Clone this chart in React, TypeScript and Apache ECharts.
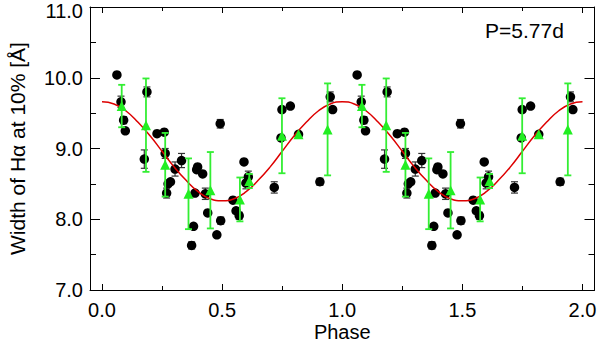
import React, { useEffect, useRef } from "react";
import * as echarts from "echarts";

// ---- data (phase 0..1, repeated for phase 1..2 as in the figure) ----
const blackPhase = [0.062, 0.079, 0.09, 0.097, 0.176, 0.187, 0.229, 0.259, 0.263, 0.269, 0.275, 0.285, 0.304, 0.331, 0.373, 0.381, 0.387, 0.394, 0.398, 0.419, 0.43, 0.44, 0.478, 0.492, 0.494, 0.545, 0.558, 0.571, 0.591, 0.599, 0.609, 0.717, 0.745, 0.749, 0.784, 0.818, 0.907, 0.95, 0.96];
const blackValue = [10.04, 9.66, 9.4, 9.25, 8.85, 9.8, 9.21, 9.23, 8.93, 8.37, 8.5, 8.53, 8.71, 8.83, 7.63, 7.9, 8.37, 8.7, 8.74, 8.64, 8.36, 8.09, 7.78, 9.35, 7.98, 8.27, 8.12, 8.05, 8.81, 8.51, 8.6, 8.45, 9.15, 9.55, 9.6, 9.2, 8.53, 9.73, 9.55];
const blackErr = [0.03, 0.08, 0.05, 0, 0.13, 0.07, 0, 0, 0.07, 0.07, 0, 0, 0.1, 0.1, 0.05, 0, 0, 0, 0, 0, 0.08, 0, 0, 0.06, 0.05, 0, 0, 0.05, 0, 0.08, 0.08, 0.08, 0, 0, 0, 0, 0.05, 0.07, 0];

const greenPhase = [0.082, 0.183, 0.263, 0.36, 0.451, 0.574, 0.613, 0.749, 0.818, 0.939];
const greenValue = [9.6, 9.33, 8.77, 8.36, 8.41, 8.28, 8.54, 9.18, 9.2, 9.27];
const greenErr = [0.3, 0.66, 0.45, 0.5, 0.54, 0.31, 0.1, 0.53, 0, 0.65];

const curvePhase = [0, 0.05, 0.1, 0.15, 0.2, 0.25, 0.3, 0.35, 0.4, 0.45, 0.5, 0.55, 0.6, 0.65, 0.7, 0.75, 0.8, 0.85, 0.9, 0.95, 1.0];
const curveValue = [9.66, 9.63, 9.53, 9.37, 9.18, 8.96, 8.74, 8.55, 8.39, 8.29, 8.26, 8.29, 8.39, 8.55, 8.74, 8.96, 9.18, 9.37, 9.53, 9.63, 9.66];

const xMajorTicks = [0, 0.5, 1.0, 1.5, 2.0];
const xMinorTicks = [0.25, 0.75, 1.25, 1.75];

const cycles = [0, 1];

const FONT = "'Liberation Sans', Arial, Helvetica, sans-serif";

function repeat(phases: number[], values: number[], extra?: number[]) {
  const out: number[][] = [];
  cycles.forEach((c) => {
    phases.forEach((p, i) => {
      const row = [p + c, values[i]];
      if (extra) row.push(extra[i]);
      out.push(row);
    });
  });
  return out;
}

function errorBarSeries(data: number[][], color: string, width: number, z: number) {
  return {
    type: "custom",
    xAxisIndex: 0,
    yAxisIndex: 0,
    z,
    data: data.filter((d) => d[2] > 0),
    renderItem: (params: any, api: any) => {
      const x = api.value(0);
      const y = api.value(1);
      const e = api.value(2);
      const top = api.coord([x, y + e]);
      const bot = api.coord([x, y - e]);
      const hw = 3.5;
      const style = { stroke: color, lineWidth: width };
      return {
        type: "group",
        children: [
          { type: "line", shape: { x1: top[0], y1: top[1], x2: bot[0], y2: bot[1] }, style },
          { type: "line", shape: { x1: top[0] - hw, y1: top[1], x2: top[0] + hw, y2: top[1] }, style },
          { type: "line", shape: { x1: bot[0] - hw, y1: bot[1], x2: bot[0] + hw, y2: bot[1] }, style },
        ],
      };
    },
    silent: true,
  };
}

export default function App() {
  const ref = useRef<HTMLDivElement>(null);
  useEffect(() => {
    if (!ref.current) return;
    const chart = echarts.init(ref.current, undefined, { renderer: "svg" });
    const black = repeat(blackPhase, blackValue, blackErr);
    const green = repeat(greenPhase, greenValue, greenErr);
    const curve = repeat(curvePhase, curveValue).filter((d, i, arr) => i === 0 || d[0] !== arr[i - 1][0]);

    const axisLineStyle = { color: "#000", width: 1 };
    const baseX = {
      type: "value",
      min: -0.05,
      max: 2.05,
      splitLine: { show: false },
    };
    const baseY = {
      type: "value",
      min: 7,
      max: 11,
      interval: 1,
      splitLine: { show: false },
    };

    chart.setOption({
      animation: false,
      backgroundColor: "#fff",
      grid: { left: 90, right: 5.5, top: 7, bottom: 53, containLabel: false, outerBoundsMode: "none" },
      textStyle: { fontFamily: FONT },
      xAxis: [
        {
          ...baseX,
          position: "bottom",
          axisLine: { show: true, onZero: false, lineStyle: axisLineStyle },
          axisTick: { show: true, inside: true, length: 6, customValues: xMajorTicks, lineStyle: axisLineStyle },
          axisLabel: {
            show: true,
            customValues: xMajorTicks,
            formatter: (v: number) => v.toFixed(1),
            fontSize: 20,
            color: "#000",
            margin: 10,
            fontFamily: FONT,
          },
          name: "Phase",
          nameLocation: "middle",
          nameGap: 32,
          nameMoveOverlap: false,
          nameTextStyle: { fontSize: 20, color: "#000", fontFamily: FONT, lineHeight: 20 },
        },
        {
          ...baseX,
          position: "bottom",
          axisLine: { show: false, onZero: false },
          axisTick: { show: true, inside: true, length: 4, customValues: xMinorTicks, lineStyle: axisLineStyle },
          axisLabel: { show: false },
        },
        {
          ...baseX,
          position: "top",
          axisLine: { show: true, onZero: false, lineStyle: axisLineStyle },
          axisTick: { show: true, inside: true, length: 6, customValues: xMajorTicks, lineStyle: axisLineStyle },
          axisLabel: { show: false },
        },
        {
          ...baseX,
          position: "top",
          axisLine: { show: false, onZero: false },
          axisTick: { show: true, inside: true, length: 4, customValues: xMinorTicks, lineStyle: axisLineStyle },
          axisLabel: { show: false },
        },
      ],
      yAxis: [
        {
          ...baseY,
          position: "left",
          axisLine: { show: true, onZero: false, lineStyle: axisLineStyle },
          axisTick: { show: true, inside: true, length: 10, lineStyle: axisLineStyle },
          minorTick: { show: true, splitNumber: 2, length: 6, lineStyle: axisLineStyle },
          axisLabel: {
            formatter: (v: number) => (v === 11 ? "{top|" + v.toFixed(1) + "}" : v.toFixed(1)),
            fontSize: 20,
            color: "#000",
            margin: 7,
            fontFamily: FONT,
            rich: {
              top: { fontSize: 20, color: "#000", fontFamily: FONT, padding: [7, 0, 0, 0] },
            },
          },
          name: "Width of H\u03b1 at 10% [\u00c5]",
          nameLocation: "middle",
          nameGap: 62,
          nameRotate: 90,
          nameMoveOverlap: false,
          nameTextStyle: { fontSize: 21, color: "#000", fontFamily: FONT },
        },
        {
          ...baseY,
          position: "right",
          axisLine: { show: true, onZero: false, lineStyle: axisLineStyle },
          axisTick: { show: true, inside: true, length: 10, lineStyle: axisLineStyle },
          minorTick: { show: true, splitNumber: 2, length: 6, lineStyle: axisLineStyle },
          axisLabel: { show: false },
        },
      ],
      graphic: [
        {
          type: "text",
          left: 485,
          top: 20,
          style: { text: "P=5.77d", fontSize: 21, fill: "#000", fontFamily: FONT },
        },
      ],
      series: [
        errorBarSeries(black, "#333", 1.2, 2),
        {
          type: "scatter",
          xAxisIndex: 0,
          yAxisIndex: 0,
          z: 3,
          symbol: "circle",
          symbolSize: 9.5,
          itemStyle: { color: "#000", opacity: 1 },
          data: black.map((d) => [d[0], d[1]]),
          silent: true,
        },
        {
          type: "line",
          xAxisIndex: 0,
          yAxisIndex: 0,
          z: 4,
          smooth: true,
          showSymbol: false,
          symbol: "none",
          lineStyle: { color: "#dd0000", width: 1.5 },
          data: curve,
          silent: true,
        },
        errorBarSeries(green, "#33ee33", 1.8, 5),
        {
          type: "scatter",
          xAxisIndex: 0,
          yAxisIndex: 0,
          z: 6,
          symbol: "triangle",
          symbolSize: 10,
          itemStyle: { color: "#22ee22", opacity: 1 },
          data: green.map((d) => [d[0], d[1]]),
          silent: true,
        },
      ],
    });
    return () => chart.dispose();
  }, []);
  return (
    <div
      ref={ref}
      style={{ position: "fixed", left: 0, top: 0, width: 600, height: 343, background: "#fff" }}
    />
  );
}
